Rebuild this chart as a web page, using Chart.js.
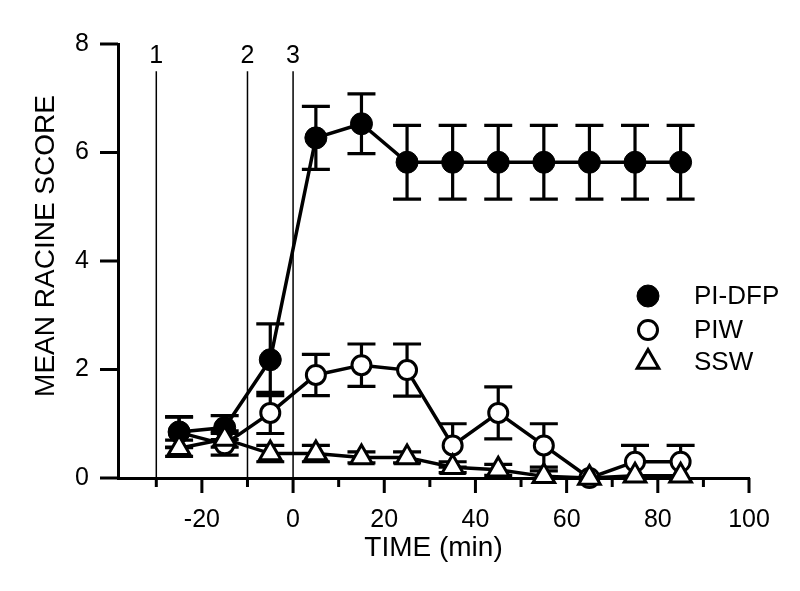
<!DOCTYPE html>
<html><head><meta charset="utf-8">
<script src="https://cdn.jsdelivr.net/npm/chart.js@4.4.1/dist/chart.umd.min.js"></script>
<style>html,body{margin:0;padding:0;background:#fff}#wrap{width:800px;height:591px}</style>
</head><body><div id="wrap"><canvas id="c" width="800" height="591"></canvas></div>
<script>
const times = [-25,-15,-5,5,15,25,35,45,55,65,75,85];
const piDfpMean = [0.85,0.93,2.18,6.27,6.53,5.82,5.82,5.82,5.82,5.82,5.82,5.82];
const piDfpSem  = [0.28,0.22,0.66,0.58,0.55,0.68,0.68,0.68,0.68,0.68,0.68,0.68];
const piwMean = [0.84,0.62,1.2,1.9,2.08,1.99,0.6,1.2,0.6,0,0.3,0.3];
const piwSem  = [0.28,0.2,0.38,0.38,0.39,0.48,0.4,0.48,0.4,0,0.3,0.3];
const sswMean = [0.55,0.72,0.45,0.45,0.38,0.38,0.2,0.15,0.03,0,0.04,0.04];
const sswSem  = [0.15,0.15,0.15,0.15,0.1,0.1,0.1,0.1,0.1,0,0,0];
const seriesNames = ['PI-DFP','PIW','SSW'];
const xMajorTicks = [-20,0,20,40,60,80,100];
const xMinorTicks = [-30,-10,10,30,50,70,90];
const yTicks = [0,2,4,6,8];
const markerTimes = [-30,-10,0];
const markerLabels = ['1','2','3'];
const yTitle = 'MEAN RACINE SCORE';
const xTitle = 'TIME (min)';

const FONT = '"Liberation Sans", Arial, sans-serif';
const toPts = (m) => times.map((t,i)=>({x:t,y:m[i]}));

const errPlugin = {
  id:'errPlugin',
  beforeDatasetsDraw(chart){
    const {ctx, scales:{x,y}} = chart;
    ctx.save();
    ctx.strokeStyle='#000'; ctx.fillStyle='#000';
    ctx.lineWidth=1.5;
    ctx.font='25px '+FONT; ctx.textAlign='center'; ctx.textBaseline='middle';
    markerTimes.forEach((t,i)=>{
      const px = x.getPixelForValue(t);
      ctx.beginPath(); ctx.moveTo(px, y.getPixelForValue(0)); ctx.lineTo(px, y.getPixelForValue(7.5)); ctx.stroke();
      ctx.fillText(markerLabels[i], px, y.getPixelForValue(7.77));
    });
    ctx.lineWidth=3.2; ctx.lineCap='butt';
    chart.data.datasets.forEach(ds=>{
      ds.errMean.forEach((m,i)=>{
        const s = ds.errSem[i]; if(!s) return;
        const px = x.getPixelForValue(times[i]);
        const y1 = y.getPixelForValue(m+s), y2 = y.getPixelForValue(Math.max(0,m-s));
        ctx.beginPath(); ctx.moveTo(px,y1); ctx.lineTo(px,y2);
        ctx.moveTo(px-14,y1); ctx.lineTo(px+14,y1);
        if (m-s>0){ ctx.moveTo(px-14,y2); ctx.lineTo(px+14,y2); }
        ctx.stroke();
      });
    });
    ctx.restore();
  },
  afterDraw(chart){
    const {ctx, scales:{x,y}} = chart;
    ctx.save();
    ctx.strokeStyle='#000'; ctx.lineWidth=3;
    const y0 = y.getPixelForValue(0);
    ctx.beginPath();
    xMajorTicks.forEach(v=>{const p=x.getPixelForValue(v); ctx.moveTo(p,y0); ctx.lineTo(p,y0+15);});
    xMinorTicks.forEach(v=>{const p=x.getPixelForValue(v); ctx.moveTo(p,y0); ctx.lineTo(p,y0+9);});
    const xl = x.left;
    yTicks.forEach(v=>{const p=y.getPixelForValue(v); ctx.moveTo(xl,p); ctx.lineTo(xl-18,p);});
    ctx.stroke();
    // y title
    ctx.fillStyle='#000';
    ctx.font='28px '+FONT; ctx.textAlign='center'; ctx.textBaseline='middle';
    ctx.translate(46, 246); ctx.rotate(-Math.PI/2); ctx.fillText(yTitle,0,0);
    ctx.setTransform(1,0,0,1,0,0);
    // legend
    const lx = 648, ly = [296,330,362], tx = 694;
    ctx.font='26px '+FONT; ctx.textAlign='left'; ctx.textBaseline='middle';
    chart.data.datasets.forEach((ds,i)=>{
      ctx.fillStyle = ds.pointBackgroundColor; ctx.strokeStyle = ds.pointBorderColor; ctx.lineWidth = ds.pointBorderWidth;
      Chart.helpers.drawPoint(ctx,{pointStyle:ds.pointStyle, radius:ds.pointRadius, borderWidth:ds.pointBorderWidth, rotation:0}, lx, ly[i]);
      ctx.fillStyle='#000';
      ctx.fillText(ds.label, tx, ly[i]+1);
    });
    ctx.restore();
  }
};

new Chart(document.getElementById('c'), {
  type:'line',
  data:{datasets:[
    {label:seriesNames[0], data:toPts(piDfpMean), errMean:piDfpMean, errSem:piDfpSem, order:1,
     borderColor:'#000', borderWidth:3.5, pointStyle:'circle', pointRadius:11, pointBackgroundColor:'#000', pointBorderColor:'#000', pointBorderWidth:1, clip:false, tension:0},
    {label:seriesNames[1], data:toPts(piwMean), errMean:piwMean, errSem:piwSem, order:2,
     borderColor:'#000', borderWidth:3.5, pointStyle:'circle', pointRadius:9.5, pointBackgroundColor:'#fff', pointBorderColor:'#000', pointBorderWidth:3, clip:false, tension:0},
    {label:seriesNames[2], data:toPts(sswMean), errMean:sswMean, errSem:sswSem, order:0,
     borderColor:'#000', borderWidth:3.5, pointStyle:'triangle', pointRadius:12.5, pointBackgroundColor:'#fff', pointBorderColor:'#000', pointBorderWidth:3, clip:false, tension:0}
  ]},
  options:{
    responsive:false, devicePixelRatio:1, animation:false, events:[],
    layout:{padding:{left:0,right:51,top:35,bottom:0}},
    plugins:{legend:{display:false}, tooltip:{enabled:false}},
    scales:{
      x:{type:'linear', min:-38.4, max:100,
        afterBuildTicks:(s)=>{s.ticks = xMajorTicks.map(v=>({value:v}));},
        afterFit:(s)=>{s.height=113;},
        grid:{display:false, drawTicks:false},
        border:{display:true, color:'#000', width:3},
        ticks:{color:'#000', font:{family:FONT, size:25}, padding:27, maxRotation:0, autoSkip:false},
        title:{display:true, text:xTitle, color:'#000', font:{family:FONT, size:28}, padding:{top:0,bottom:26}}
      },
      y:{type:'linear', min:0, max:8,
        afterBuildTicks:(s)=>{s.ticks = yTicks.map(v=>({value:v}));},
        afterFit:(s)=>{s.width=118;},
        grid:{display:false, drawTicks:false},
        border:{display:true, color:'#000', width:3},
        ticks:{color:'#000', font:{family:FONT, size:25}, padding:29, autoSkip:false},
        title:{display:false}
      }
    }
  },
  plugins:[errPlugin]
});
</script></body></html>
